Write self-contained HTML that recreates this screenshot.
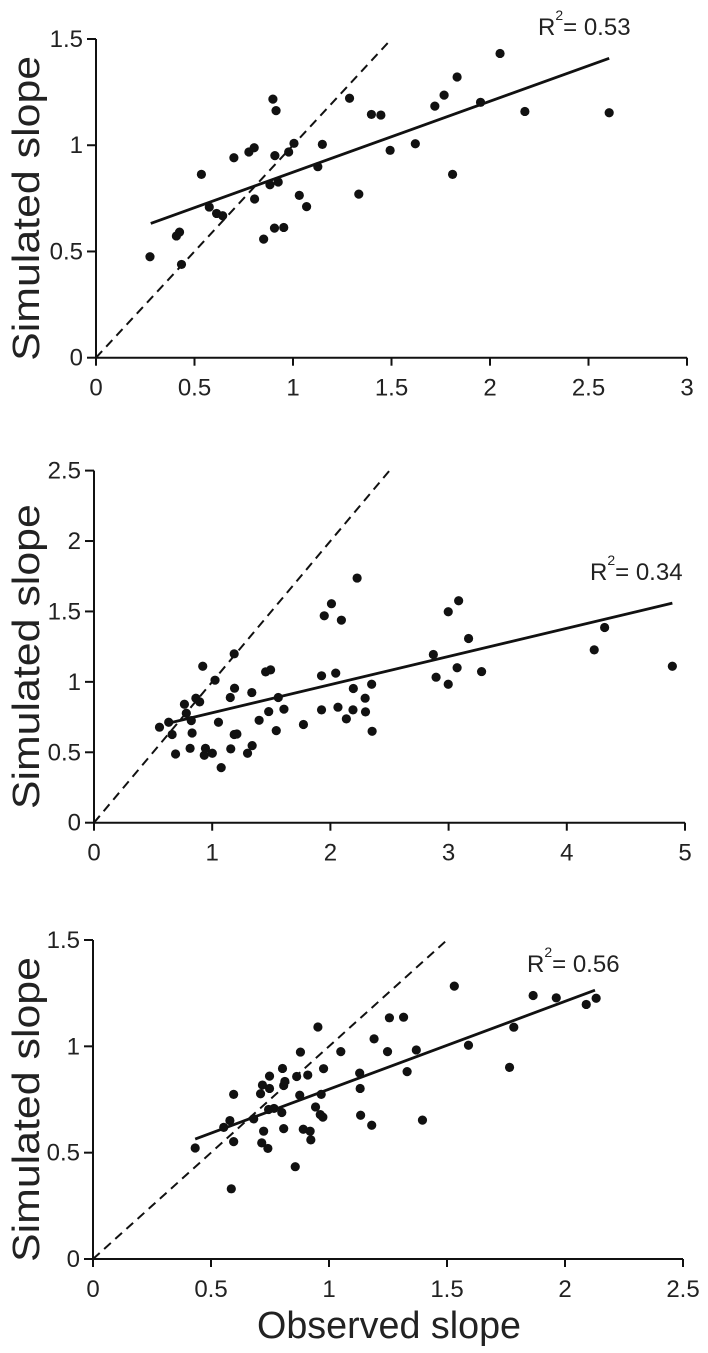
<!DOCTYPE html>
<html><head><meta charset="utf-8">
<style>
html,body{margin:0;padding:0;background:#fff;}
svg{display:block;font-family:"Liberation Sans",Arial,sans-serif;}
</style></head>
<body>
<svg id="fig" width="708" height="1353" viewBox="0 0 708 1353" xmlns="http://www.w3.org/2000/svg"></svg>
<script>
// ---- Panel 1 data ----
const obs1 = [0.274,0.408,0.424,0.434,0.535,0.575,0.612,0.643,0.700,0.776,0.803,0.805,0.851,0.883,0.898,0.914,0.908,0.925,0.906,0.953,0.978,1.005,1.032,1.069,1.126,1.149,1.287,1.334,1.398,1.446,1.493,1.621,1.720,1.767,1.810,1.833,1.952,2.051,2.177,2.605];
const sim1 = [0.475,0.573,0.591,0.439,0.863,0.709,0.679,0.668,0.941,0.968,0.988,0.747,0.558,0.814,1.217,1.163,0.951,0.827,0.610,0.613,0.968,1.009,0.764,0.711,0.899,1.004,1.221,0.770,1.145,1.142,0.976,1.007,1.184,1.236,0.863,1.321,1.202,1.432,1.159,1.153];
const fitX1 = [0.278,2.605];
const fitY1 = [0.632,1.409];
const xTicks1 = [0,0.5,1,1.5,2,2.5,3];
const xTickLabels1 = ["0","0.5","1","1.5","2","2.5","3"];
const yTicks1 = [0,0.5,1,1.5];
const yTickLabels1 = ["0","0.5","1","1.5"];
const r2Label1 = "0.53";

// ---- Panel 2 data ----
const obs2 = [0.554,0.632,0.661,0.690,0.765,0.781,0.813,0.823,0.830,0.862,0.894,0.920,0.933,0.943,1.001,1.024,1.053,1.076,1.153,1.157,1.186,1.189,1.186,1.209,1.299,1.335,1.338,1.397,1.452,1.478,1.494,1.542,1.559,1.607,1.772,1.925,1.925,1.948,2.009,2.045,2.064,2.093,2.135,2.191,2.194,2.226,2.294,2.297,2.349,2.353,2.871,2.894,2.997,2.997,3.085,3.072,3.169,3.279,4.232,4.320,4.893];
const sim2 = [0.678,0.713,0.626,0.488,0.841,0.777,0.528,0.725,0.637,0.884,0.858,1.111,0.479,0.528,0.493,1.012,0.713,0.391,0.889,0.524,1.199,0.955,0.626,0.630,0.493,0.924,0.547,0.727,1.071,0.789,1.085,0.654,0.889,0.806,0.697,1.043,0.801,1.469,1.555,1.062,0.820,1.438,0.737,0.801,0.953,1.737,0.884,0.787,0.983,0.649,1.194,1.033,0.983,1.498,1.576,1.100,1.308,1.073,1.227,1.386,1.111];
const fitX2 = [0.664,4.893];
const fitY2 = [0.713,1.559];
const xTicks2 = [0,1,2,3,4,5];
const xTickLabels2 = ["0","1","2","3","4","5"];
const yTicks2 = [0,0.5,1,1.5,2,2.5];
const yTickLabels2 = ["0","0.5","1","1.5","2","2.5"];
const r2Label2 = "0.34";

// ---- Panel 3 data ----
const obs3 = [0.433,0.554,0.580,0.596,0.596,0.586,0.681,0.710,0.718,0.723,0.715,0.741,0.748,0.748,0.744,0.767,0.803,0.808,0.813,0.800,0.808,0.857,0.863,0.876,0.879,0.891,0.910,0.920,0.923,0.943,0.953,0.963,0.974,0.967,0.977,1.050,1.130,1.132,1.134,1.181,1.191,1.248,1.256,1.316,1.331,1.370,1.396,1.531,1.591,1.765,1.783,1.865,1.963,2.090,2.132];
const sim3 = [0.522,0.619,0.651,0.774,0.552,0.330,0.659,0.777,0.818,0.601,0.546,0.520,0.860,0.802,0.703,0.708,0.896,0.816,0.835,0.689,0.613,0.434,0.858,0.770,0.973,0.610,0.865,0.601,0.560,0.715,1.091,0.679,0.667,0.774,0.895,0.975,0.874,0.802,0.676,0.629,1.035,0.975,1.134,1.137,0.881,0.983,0.653,1.283,1.005,0.901,1.090,1.239,1.228,1.197,1.226];
const fitX3 = [0.433,2.127];
const fitY3 = [0.564,1.264];
const xTicks3 = [0,0.5,1,1.5,2,2.5];
const xTickLabels3 = ["0","0.5","1","1.5","2","2.5"];
const yTicks3 = [0,0.5,1,1.5];
const yTickLabels3 = ["0","0.5","1","1.5"];
const r2Label3 = "0.56";

const NS = "http://www.w3.org/2000/svg";
const svg = document.getElementById('fig');
function mk(tag, attrs, parent){
  const e = document.createElementNS(NS, tag);
  for (const k in attrs) e.setAttribute(k, attrs[k]);
  (parent||svg).appendChild(e);
  return e;
}

function panel(idx, layout, obs, sim, fitX, fitY, xt, xtl, yt, ytl, r2, diagMax){
  const g = mk('g', {});
  
  
  const xMax = xt[xt.length-1], yMax = yt[yt.length-1];
  const sx = v => layout.x0 + (v / xMax) * (layout.x1 - layout.x0);
  const sy = v => layout.y0 - (v / yMax) * (layout.y0 - layout.y1);

  const xa = mk('line', {x1:layout.x0, y1:layout.y0, x2:layout.x1, y2:layout.y0, stroke:'#111', 'stroke-width':2}, g);
  
  
  const ya = mk('line', {x1:layout.x0, y1:layout.y0, x2:layout.x0, y2:layout.y1, stroke:'#111', 'stroke-width':2}, g);
  
  

  xt.forEach((v,i) => {
    const x = sx(v);
    mk('line', {x1:x, y1:layout.y0, x2:x, y2:layout.y0+8, stroke:'#111', 'stroke-width':2}, g);
    const t = mk('text', {x:x, y:layout.y0+38, 'text-anchor':'middle', 'font-size':24, fill:'#222'}, g);
    t.textContent = xtl[i];
    
    
  });
  yt.forEach((v,i) => {
    const y = sy(v);
    mk('line', {x1:layout.x0-9, y1:y, x2:layout.x0, y2:y, stroke:'#111', 'stroke-width':2}, g);
    const t = mk('text', {x:layout.x0-13, y:y+8, 'text-anchor':'end', 'font-size':24, fill:'#222'}, g);
    t.textContent = ytl[i];
    
    
  });

  const cy = (layout.y0 + layout.y1) / 2 + 10;
  const yt2 = mk('text', {x:0, y:0, transform:'translate(39,'+cy+') rotate(-90)', 'text-anchor':'middle', 'font-size':38, fill:'#222', textLength:layout.titleLen, lengthAdjust:'spacingAndGlyphs'}, g);
  yt2.textContent = 'Simulated slope';
  
  

  const dl = mk('line', {x1:sx(0), y1:sy(0), x2:sx(diagMax), y2:sy(diagMax), stroke:'#111', 'stroke-width':2, 'stroke-dasharray':'9,6'}, g);
  
  

  const rl = mk('line', {x1:sx(fitX[0]), y1:sy(fitY[0]), x2:sx(fitX[1]), y2:sy(fitY[1]), stroke:'#111', 'stroke-width':2.8}, g);
  
  

  obs.forEach((v,i) => {
    const c = mk('circle', {cx:sx(v), cy:sy(sim[i]), r:4.6, fill:'#111'}, g);
    
    
  });

  const rt = mk('text', {x:layout.rx, y:layout.ry, 'font-size':24, fill:'#222'}, g);
  
  
  rt.textContent = 'R';
  const sup = mk('tspan', {dy:-15, 'font-size':14}, rt);
  sup.textContent = '2';
  const rest = mk('tspan', {dy:15, 'font-size':24}, rt);
  rest.textContent = '= ' + r2;
}

panel(1, {x0:96, x1:687, y0:357.7, y1:39, rx:538, ry:35, titleLen:305}, obs1, sim1, fitX1, fitY1, xTicks1, xTickLabels1, yTicks1, yTickLabels1, r2Label1, 1.5);
panel(2, {x0:94, x1:685, y0:822.7, y1:470.6, rx:590, ry:580, titleLen:305}, obs2, sim2, fitX2, fitY2, xTicks2, xTickLabels2, yTicks2, yTickLabels2, r2Label2, 2.5);
panel(3, {x0:93, x1:683, y0:1259, y1:940, rx:527, ry:972, titleLen:305}, obs3, sim3, fitX3, fitY3, xTicks3, xTickLabels3, yTicks3, yTickLabels3, r2Label3, 1.5);

const xt = mk('text', {x:389, y:1338, 'text-anchor':'middle', 'font-size':38, fill:'#222', textLength:264, lengthAdjust:'spacingAndGlyphs'});
xt.textContent = 'Observed slope';


</script>
</body></html>
